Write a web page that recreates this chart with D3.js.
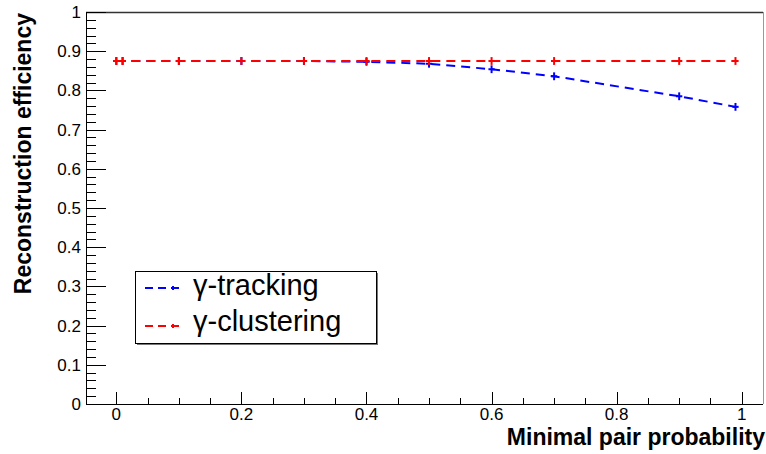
<!DOCTYPE html>
<html><head><meta charset="utf-8">
<script src="https://cdn.jsdelivr.net/npm/d3@7"></script>
<style>body{margin:0;background:#fff}svg{display:block}text{font-family:"Liberation Sans",Arial,sans-serif}</style>
</head><body>
<svg id="c" width="766" height="454"></svg>
<script>
const probs      = [0, 0.01, 0.1, 0.2, 0.3, 0.4, 0.5, 0.6, 0.7, 0.9, 0.99];
const tracking   = [0.875, 0.875, 0.875, 0.875, 0.875, 0.873, 0.868, 0.854, 0.836, 0.785, 0.758];
const clustering = [0.875, 0.875, 0.875, 0.875, 0.875, 0.875, 0.875, 0.875, 0.875, 0.875, 0.875];
const yErr = 0.01, xErr = 0.005;
const xTicks = [0, 0.2, 0.4, 0.6, 0.8, 1];
const yTicks = [0, 0.1, 0.2, 0.3, 0.4, 0.5, 0.6, 0.7, 0.8, 0.9, 1];
const seriesNames = ["γ-tracking", "γ-clustering"];
const seriesColors = ["#0000ff", "#ff0000"];
const xTitle = "Minimal pair probability";
const yTitle = "Reconstruction efficiency";

const svg = d3.select("#c");
const L = 86, R = 763, T = 12, B = 404;
const x = d3.scaleLinear().domain([-0.0485, 1.034]).range([L, R]);
const y = d3.scaleLinear().domain([0, 1]).range([B, T]);

// frame
svg.append("line").attr("x1", L).attr("x2", R).attr("y1", T + 0.5).attr("y2", T + 0.5).attr("stroke", "#333").attr("stroke-width", 1.5);
svg.append("line").attr("x1", R + 0.5).attr("x2", R + 0.5).attr("y1", T).attr("y2", B).attr("stroke", "#999").attr("stroke-width", 1);

// x axis
const xMinor = d3.range(0, 1.0001, 0.05);
const gx = svg.append("g");
gx.append("line").attr("x1", L).attr("x2", R).attr("y1", B + 0.5).attr("y2", B + 0.5).attr("stroke", "#000");
gx.selectAll(".mn").data(xMinor).join("line").attr("x1", d => Math.round(x(d)) + 0.5).attr("x2", d => Math.round(x(d)) + 0.5)
  .attr("y1", B).attr("y2", B - 6).attr("stroke", "#000");
gx.selectAll(".mj").data(xTicks).join("line").attr("x1", d => Math.round(x(d)) + 0.5).attr("x2", d => Math.round(x(d)) + 0.5)
  .attr("y1", B).attr("y2", B - 12).attr("stroke", "#000");
gx.selectAll("text").data(xTicks).join("text").attr("x", d => x(d)).attr("y", 420).attr("text-anchor", "middle")
  .attr("font-size", 17).text(d => d3.format("~g")(d));
gx.append("text").attr("x", 765).attr("y", 445).attr("text-anchor", "end").attr("font-size", 23).attr("font-weight", "bold").text(xTitle);

// y axis
const yMinor = d3.range(0, 1.0001, 0.02);
const gy = svg.append("g");
gy.append("line").attr("x1", L + 0.5).attr("x2", L + 0.5).attr("y1", T).attr("y2", B).attr("stroke", "#000");
gy.selectAll(".mn").data(yMinor).join("line").attr("y1", d => Math.round(y(d)) + 0.5).attr("y2", d => Math.round(y(d)) + 0.5)
  .attr("x1", L).attr("x2", L + 10).attr("stroke", "#000");
gy.selectAll(".mj").data(yTicks).join("line").attr("y1", d => Math.round(y(d)) + 0.5).attr("y2", d => Math.round(y(d)) + 0.5)
  .attr("x1", L).attr("x2", L + 20).attr("stroke", "#000");
gy.selectAll("text").data(yTicks).join("text").attr("x", 81).attr("y", d => y(d) + 6).attr("text-anchor", "end")
  .attr("font-size", 17).text(d => d3.format("~g")(d));
gy.append("text").attr("transform", "translate(31,13) rotate(-90)").attr("text-anchor", "end").attr("font-size", 23)
  .attr("font-weight", "bold").text(yTitle);

// series
const allSeries = [tracking, clustering];
const line = d3.line().x(d => x(d[0])).y(d => y(d[1]));
allSeries.forEach((vals, i) => {
  const pts = probs.map((p, j) => [p, vals[j]]);
  const g = svg.append("g");
  g.append("path").attr("d", line(pts)).attr("fill", "none").attr("stroke", seriesColors[i])
    .attr("stroke-width", 2).attr("stroke-dasharray", "9,6");
  g.selectAll(".ev").data(pts).join("line").attr("x1", d => x(d[0])).attr("x2", d => x(d[0]))
    .attr("y1", d => y(d[1] - yErr)).attr("y2", d => y(d[1] + yErr)).attr("stroke", seriesColors[i]).attr("stroke-width", 2);
  g.selectAll(".eh").data(pts).join("line").attr("x1", d => x(d[0] - xErr)).attr("x2", d => x(d[0] + xErr))
    .attr("y1", d => y(d[1])).attr("y2", d => y(d[1])).attr("stroke", seriesColors[i]).attr("stroke-width", 2);
});

// legend
const lg = svg.append("g");
lg.append("rect").attr("x", 137).attr("y", 273).attr("width", 241).attr("height", 72).attr("fill", "#777");
lg.append("rect").attr("x", 135.5).attr("y", 271.5).attr("width", 241).attr("height", 72).attr("fill", "#fff").attr("stroke", "#000");
seriesNames.forEach((n, i) => {
  const cy = 288 + i * 38;
  lg.append("line").attr("x1", 145).attr("x2", 184).attr("y1", cy).attr("y2", cy).attr("stroke", seriesColors[i])
    .attr("stroke-width", 2).attr("stroke-dasharray", "8,5");
  lg.append("line").attr("x1", 173).attr("x2", 173).attr("y1", cy - 2).attr("y2", cy + 2).attr("stroke", seriesColors[i]).attr("stroke-width", 2);
  lg.append("text").attr("x", 193).attr("y", 295 + i * 36).attr("font-size", 29).text(n);
});
</script>
</body></html>
